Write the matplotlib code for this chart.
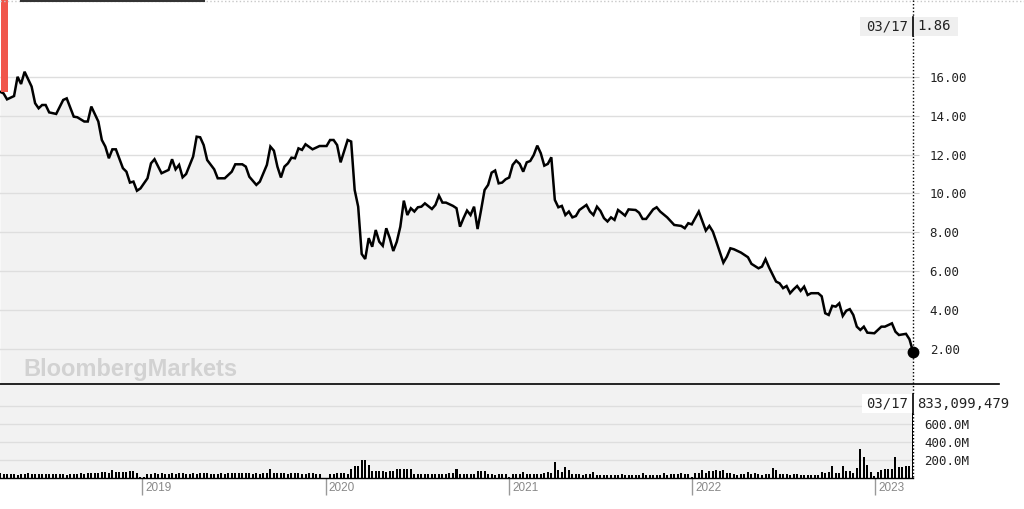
import matplotlib
matplotlib.use("Agg")
import matplotlib.pyplot as plt
import matplotlib.dates as mdates
from matplotlib.lines import Line2D
from matplotlib.patches import Rectangle
import numpy as np
import pandas as pd

# weekly series, week 0 .. week 260 (last = 2023-03-17)
end_date = pd.Timestamp("2023-03-17")
n_weeks = 261

price_weeks = [0, 1, 2, 4, 5, 6, 7, 9, 10, 11, 12, 13, 14, 16, 18, 19, 21, 22, 24, 25,
               26, 28, 29, 30, 31, 32, 33, 35, 36, 37, 38, 39, 40, 42, 43, 44, 46, 48, 49, 50,
               51, 52, 53, 55, 56, 57, 58, 59, 61, 62, 64, 65, 66, 67, 69, 70, 71, 73, 74, 75,
               76, 77, 78, 79, 80, 81, 82, 83, 84, 85, 86, 87, 89, 91, 93, 94, 95, 96, 97, 98,
               99, 100, 101, 102, 103, 104, 105, 106, 107, 108, 109, 110, 111, 112, 113, 114, 115, 116, 117, 118,
               119, 120, 121, 123, 124, 125, 126, 127, 129, 130, 131, 132, 133, 134, 135, 136, 137, 138, 139, 140,
               141, 142, 143, 144, 145, 146, 147, 148, 149, 150, 151, 152, 153, 154, 155, 156, 157, 158, 159, 160,
               161, 162, 163, 164, 165, 167, 168, 169, 170, 171, 172, 173, 174, 175, 176, 177, 178, 179, 181, 182,
               183, 184, 186, 187, 188, 190, 192, 194, 195, 196, 197, 199, 201, 202, 203, 204, 206, 207, 208, 209,
               211, 213, 214, 216, 217, 218, 219, 221, 222, 223, 224, 225, 226, 227, 228, 229, 230, 231, 233, 234,
               235, 236, 237, 238, 239, 240, 241, 242, 243, 244, 245, 246, 247, 249, 250, 251, 252, 254, 255, 256,
               258, 259, 260]
price_vals = [15.23, 15.15, 14.84, 15.01, 16.00, 15.63, 16.26, 15.50, 14.64, 14.38, 14.55, 14.55, 14.17, 14.09, 14.81, 14.89, 13.95, 13.92, 13.70, 13.70,
              14.47, 13.70, 12.75, 12.41, 11.81, 12.27, 12.27, 11.30, 11.12, 10.56, 10.61, 10.14, 10.26, 10.78, 11.55, 11.76, 11.04, 11.21, 11.76, 11.24,
              11.47, 10.83, 11.00, 11.90, 12.92, 12.89, 12.49, 11.72, 11.24, 10.78, 10.78, 10.95, 11.12, 11.50, 11.50, 11.38, 10.86, 10.44, 10.61, 11.04,
              11.47, 12.41, 12.20, 11.38, 10.82, 11.38, 11.55, 11.84, 11.81, 12.32, 12.24, 12.53, 12.27, 12.44, 12.44, 12.75, 12.75, 12.49, 11.60, 12.17,
              12.75, 12.67, 10.18, 9.32, 6.89, 6.63, 7.70, 7.26, 8.12, 7.52, 7.31, 8.21, 7.70, 7.04, 7.52, 8.29, 9.63, 8.89, 9.24, 9.07,
              9.29, 9.32, 9.49, 9.20, 9.41, 9.89, 9.53, 9.53, 9.36, 9.24, 8.29, 8.73, 9.12, 8.89, 9.32, 8.17, 9.15, 10.18, 10.44, 11.07,
              11.18, 10.52, 10.56, 10.73, 10.82, 11.47, 11.69, 11.52, 11.12, 11.60, 11.67, 11.98, 12.46, 12.07, 11.43, 11.52, 11.86, 9.67, 9.29, 9.36,
              8.89, 9.07, 8.77, 8.84, 9.15, 9.41, 9.07, 8.89, 9.32, 9.10, 8.73, 8.56, 8.77, 8.64, 9.15, 9.01, 8.86, 9.18, 9.15, 9.01,
              8.69, 8.69, 9.18, 9.29, 9.07, 8.77, 8.38, 8.33, 8.21, 8.47, 8.41, 9.07, 8.09, 8.33, 8.04, 7.52, 6.44, 6.75, 7.18, 7.13,
              6.96, 6.72, 6.38, 6.15, 6.24, 6.62, 6.20, 5.47, 5.38, 5.13, 5.24, 4.87, 5.07, 5.24, 4.99, 5.21, 4.78, 4.87, 4.87, 4.71,
              3.84, 3.75, 4.22, 4.18, 4.35, 3.70, 3.97, 4.05, 3.75, 3.15, 2.98, 3.15, 2.84, 2.81, 2.98, 3.15, 3.15, 3.32, 2.89, 2.72,
              2.78, 2.50, 1.86]

# weekly volume, millions of shares
volume_m = [50, 45, 45, 48, 40, 38, 42, 40, 52, 45,
            45, 42, 42, 45, 40, 42, 45, 42, 40, 38,
            42, 40, 45, 50, 48, 55, 52, 60, 55, 65,
            72, 55, 85, 70, 62, 68, 72, 75, 80, 58,
            12, 10, 45, 48, 50, 45, 52, 48, 45, 50,
            48, 52, 50, 48, 45, 50, 48, 52, 55, 50,
            45, 48, 42, 50, 45, 52, 55, 58, 55, 60,
            58, 60, 48, 52, 45, 55, 60, 96, 55, 58,
            55, 52, 48, 55, 52, 50, 48, 45, 50, 52,
            45, 48, 5, 5, 45, 48, 50, 55, 60, 48,
            95, 133, 133, 205, 205, 145, 78, 75, 78, 80,
            72, 78, 75, 100, 100, 100, 100, 100, 45, 45,
            42, 45, 45, 40, 45, 45, 42, 45, 55, 55,
            100, 45, 40, 40, 42, 40, 75, 75, 75, 40,
            42, 38, 40, 42, 40, 8, 45, 40, 45, 66,
            45, 42, 45, 45, 48, 55, 66, 60, 178, 90,
            70, 122, 85, 42, 40, 42, 38, 40, 40, 66,
            37, 38, 36, 37, 38, 35, 37, 40, 36, 37,
            38, 36, 37, 60, 30, 32, 30, 28, 30, 55,
            30, 48, 45, 48, 50, 45, 48, 8, 50, 60,
            85, 55, 75, 80, 85, 78, 85, 60, 55, 40,
            38, 42, 40, 63, 40, 55, 40, 38, 42, 45,
            110, 85, 41, 40, 42, 38, 40, 42, 30, 30,
            32, 28, 30, 30, 66, 60, 66, 130, 55, 55,
            130, 74, 74, 55, 111, 325, 230, 148, 66, 20,
            70, 90, 100, 100, 100, 230, 125, 125, 135, 130,
            730]

last_label = "03/17"
last_price_txt = "1.86"
last_volume_txt = "833,099,479"
price_ticks = [2, 4, 6, 8, 10, 12, 14, 16]
volume_ticks = [200e6, 400e6, 600e6, 800e6]
volume_ticklabels = ["200.0M", "400.0M", "600.0M", ""]

start_date = end_date - pd.Timedelta(weeks=n_weeks - 1)
week_dates = pd.date_range(start_date, periods=n_weeks, freq="7D")
price_dates = week_dates[price_weeks]

W, H = 1024, 509
fig = plt.figure(figsize=(W / 100, H / 100), dpi=100)
fig.patch.set_facecolor("white")

mono = "DejaVu Sans Mono"
fill_gray = "#f2f2f2"
grid_gray = "#dedede"
ax_right = 913 / W

# price panel
ax = fig.add_axes([0, 1 - 384 / H, ax_right, 384 / H])
ax.set_facecolor("white")
ax.fill_between(price_dates, price_vals, 0, color=fill_gray, zorder=1, lw=0)
ax.plot(price_dates, price_vals, color="black", lw=1.8, zorder=3, solid_joinstyle="miter")
ax.plot([price_dates[-1]], [price_vals[-1]], "o", color="black", ms=7.5, zorder=5, clip_on=False)
ax.set_xlim(start_date, end_date)
ax.set_ylim(0.2, 19.95)
ax.set_yticks(price_ticks)
ax.set_yticklabels([f"{v:.2f}" for v in price_ticks], fontfamily=mono, fontsize=9, color="#222222")
ax.yaxis.tick_right()
ax.tick_params(axis="y", length=4, color="#cccccc", pad=8)
ax.set_xticks([])
ax.grid(axis="y", color=grid_gray, lw=1, zorder=0)
for s in ax.spines.values():
    s.set_visible(False)
ax.text(23 / W, 1 - 376 / H, "BloombergMarkets", transform=fig.transFigure,
        fontfamily="Liberation Sans", fontweight="bold", fontsize=17, color="#d2d2d2",
        ha="left", va="baseline", zorder=2)

# volume panel
axv = fig.add_axes([0, 1 - 478 / H, ax_right, (478 - 385) / H])
axv.set_facecolor(fill_gray)
axv.bar(week_dates, np.array(volume_m) * 1e6, width=4, color="black", zorder=3)
axv.set_xlim(start_date, end_date)
axv.set_ylim(0, 1033e6)
axv.set_yticks(volume_ticks)
axv.set_yticklabels(volume_ticklabels, fontfamily=mono, fontsize=9, color="#222222")
axv.yaxis.tick_right()
axv.tick_params(axis="y", length=0, pad=8)
axv.grid(axis="y", color=grid_gray, lw=1, zorder=0)
for s in axv.spines.values():
    s.set_visible(False)
axv.spines["bottom"].set_visible(True)
axv.spines["bottom"].set_color("black")
axv.spines["bottom"].set_linewidth(1.0)
axv.xaxis.set_major_locator(mdates.YearLocator())
axv.xaxis.set_major_formatter(plt.NullFormatter())
axv.tick_params(axis="x", length=12, color="#999999", width=1)
for yr in range(2019, 2024):
    axv.annotate(str(yr), xy=(pd.Timestamp(f"{yr}-01-01"), 0), xycoords=("data", "axes fraction"),
                 xytext=(2, -7.5), textcoords="offset points", ha="left", va="center",
                 fontsize=8.5, color="#888888", fontfamily="Liberation Sans")


def fig_y(py):
    return 1 - py / H


# separator, borders, dotted cursor line
fig.add_artist(Line2D([0, 999 / W], [fig_y(384), fig_y(384)], color="black", lw=1.2))
fig.add_artist(Line2D([0, 1], [fig_y(1), fig_y(1)], color="#c8c8c8", lw=1, ls=":"))
fig.add_artist(Line2D([21 / W, 204 / W], [fig_y(1), fig_y(1)], color="#333333", lw=1.5))
fig.add_artist(Line2D([ax_right, ax_right], [fig_y(0), fig_y(478)], color="black", lw=1, ls=(0, (1, 1.5))))
fig.add_artist(Rectangle((1 / W, fig_y(92)), 7 / W, 92 / H, color="#f0564b", lw=0))

# last value boxes
fig.add_artist(Rectangle((860 / W, fig_y(36)), 98 / W, 19 / H, color="#efefef", lw=0, zorder=4))
fig.add_artist(Line2D([ax_right, ax_right], [fig_y(17), fig_y(36)], color="black", lw=1.2, zorder=5))
fig.text(908 / W, fig_y(26.5), last_label, ha="right", va="center", fontfamily=mono, fontsize=10, color="#222222", zorder=6)
fig.text(917 / W, fig_y(26.5), last_price_txt, ha="left", va="center", fontfamily=mono, fontsize=10, color="#222222", zorder=6)

fig.add_artist(Rectangle((862 / W, fig_y(413)), 152 / W, 19 / H, color="white", lw=0, zorder=4))
fig.add_artist(Line2D([ax_right, ax_right], [fig_y(394), fig_y(413)], color="black", lw=1.2, zorder=5))
fig.text(908 / W, fig_y(403.5), last_label, ha="right", va="center", fontfamily=mono, fontsize=10, color="#222222", zorder=6)
fig.text(917 / W, fig_y(403.5), last_volume_txt, ha="left", va="center", fontfamily=mono, fontsize=10, color="#222222", zorder=6)

fig.savefig("out.png", dpi=100, facecolor="white")
